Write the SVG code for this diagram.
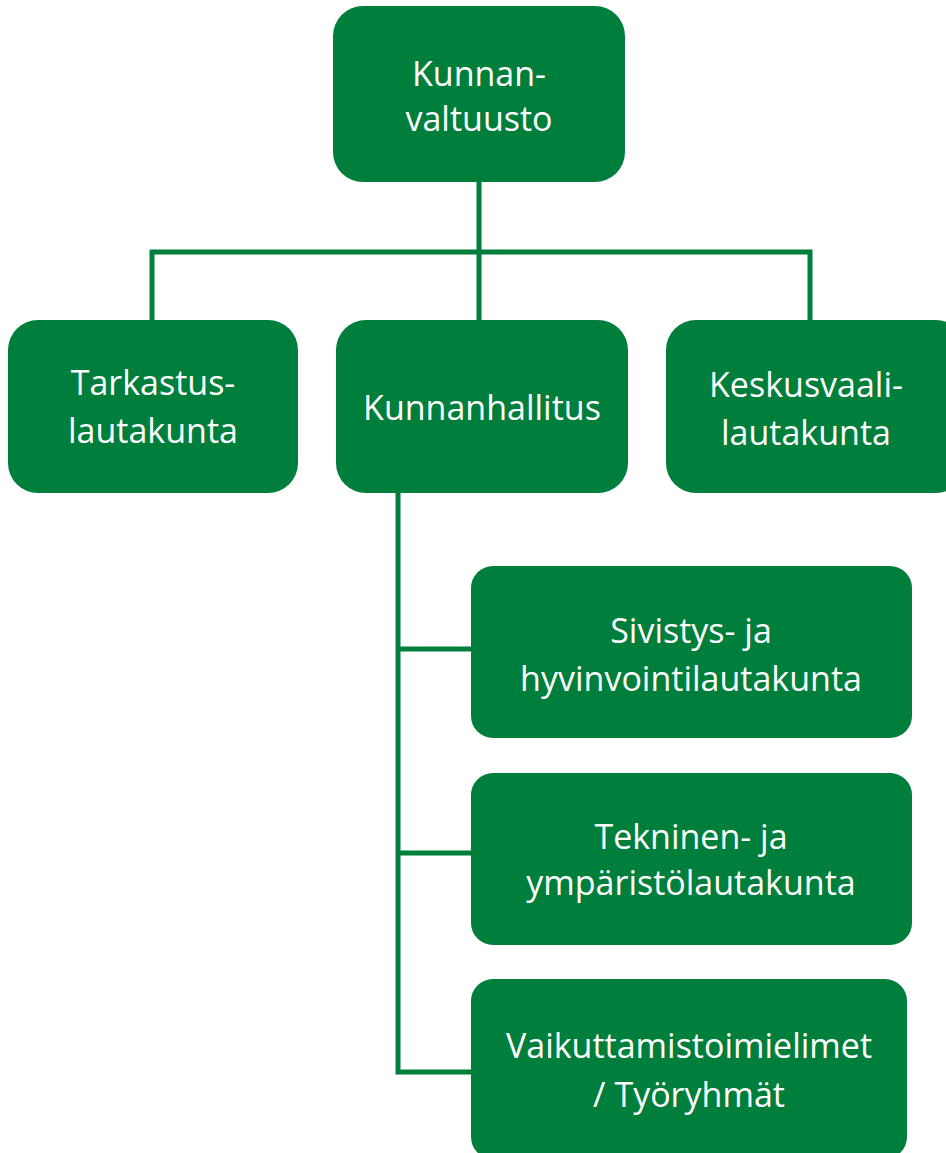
<svg xmlns="http://www.w3.org/2000/svg" width="946" height="1153" viewBox="0 0 946 1153">
<style>
.box{fill:#007E3B;}
.t{fill:#ffffff;font-family:"Open Sans","Noto Sans",sans-serif;font-size:34px;text-anchor:middle;}
.c{fill:none;stroke:#007E3B;stroke-width:5;}
</style>
<rect width="946" height="1153" fill="#ffffff"/>
<g id="connectors">
<path class="c" d="M479 182 V320"/>
<path class="c" d="M152 320 V252 H810 V320"/>
<path class="c" d="M398 493 V1072 H472"/>
<path class="c" d="M398 649 H472"/>
<path class="c" d="M398 853 H472"/>
</g>
<g id="kunnanvaltuusto">
<rect class="box" x="333" y="6" width="292" height="176" rx="30"/>
<text class="t" x="479" y="86">Kunnan-</text>
<text class="t" x="479" y="131">valtuusto</text>
</g>
<g id="tarkastuslautakunta">
<rect class="box" x="8" y="320" width="290" height="173" rx="30"/>
<text class="t" x="153" y="395">Tarkastus-</text>
<text class="t" x="153" y="443">lautakunta</text>
</g>
<g id="kunnanhallitus">
<rect class="box" x="336" y="320" width="292" height="173" rx="30"/>
<text class="t" x="482" y="420">Kunnanhallitus</text>
</g>
<g id="keskusvaalilautakunta">
<rect class="box" x="666" y="320" width="300" height="173" rx="30"/>
<text class="t" x="806" y="397">Keskusvaali-</text>
<text class="t" x="806" y="445">lautakunta</text>
</g>
<g id="sivistys">
<rect class="box" x="471" y="566" width="441" height="172" rx="22"/>
<text class="t" x="691" y="643">Sivistys- ja</text>
<text class="t" x="691" y="691">hyvinvointilautakunta</text>
</g>
<g id="tekninen">
<rect class="box" x="471" y="773" width="441" height="172" rx="22"/>
<text class="t" x="691" y="849">Tekninen- ja</text>
<text class="t" x="691" y="895">ympäristölautakunta</text>
</g>
<g id="vaikuttamistoimielimet">
<rect class="box" x="471" y="979" width="436" height="180" rx="22"/>
<text class="t" x="689" y="1058">Vaikuttamistoimielimet</text>
<text class="t" x="689" y="1107">/ Työryhmät</text>
</g>
</svg>
